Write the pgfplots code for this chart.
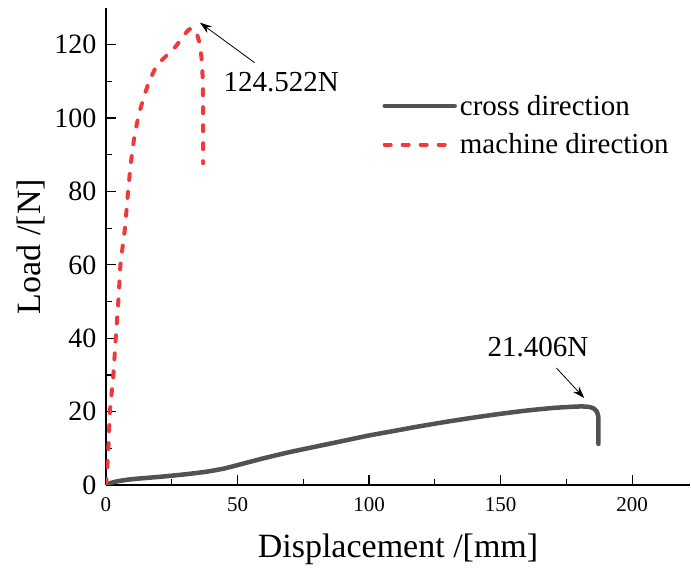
\documentclass[border=0pt]{standalone}
\usepackage{fontspec}
\setmainfont{Liberation Serif}
\usepackage{pgfplots}
\pgfplotsset{compat=1.18}
\usetikzlibrary{arrows.meta}
\definecolor{mdred}{RGB}{238,58,60}
\definecolor{cdgray}{RGB}{82,82,82}
\begin{document}
\begin{tikzpicture}
\useasboundingbox (-106pt,-85pt) rectangle (585pt,485pt);
\begin{axis}[name=ax, at={(0,0)}, anchor=south west,
  scale only axis, width=584pt, height=477pt,
  xmin=0, xmax=222, ymin=0, ymax=130,
  axis lines=left, axis line style={-, line width=1.3pt},
  xtick={0,50,...,200}, ytick={0,20,...,120},
  minor xtick={25,75,...,175}, minor ytick={10,30,...,110},
  tick align=inside, major tick length=10pt, minor tick length=6pt,
  every tick/.style={black, line width=1.2pt},
  /pgf/number format/assume math mode=true,
  x tick label style={font=\fontsize{21}{25}\selectfont, yshift=-9pt},
  y tick label style={font=\fontsize{28}{32}\selectfont, xshift=-6pt},
  xlabel={Displacement /[mm]}, ylabel={Load /[N]},
  label style={font=\fontsize{34}{40}\selectfont},
  x label style={at={(axis description cs:0.5,-0.151)}, anchor=base},
  y label style={at={(axis description cs:-0.113,0.5)}, anchor=base},
  legend cell align=left,
  legend image code/.code={\draw[#1] plot coordinates {(0pt,0pt) (35pt,0pt) (70pt,0pt)};},
  legend style={at={(0.473,0.822)}, anchor=north west, draw=none, fill=none,
    font=\fontsize{29}{34}\selectfont, row sep=13pt, inner sep=0pt,
    nodes={inner sep=2pt, inner xsep=3pt}},
]
\addplot[cdgray, line width=4.5pt, line join=round, line cap=round, smooth, tension=0.3] coordinates {
(0,0) (2,0.6) (5,1.1) (10,1.6) (20,2.2) (30,2.9) (38,3.6) (45,4.5) (52,5.8)
(60,7.3) (70,9.0) (80,10.5) (90,12.0) (100,13.5) (110,14.8) (120,16.1)
(130,17.3) (140,18.4) (150,19.4) (160,20.3) (170,21.0) (178,21.35) (181,21.406)
(183.5,21.3) (185.3,20.9) (186.5,20.1) (187.1,18.8) (187.2,16.5) (187.2,11.2)
};
\addlegendentry{cross direction}
\addplot[mdred, line width=4pt, line cap=round, dash pattern=on 6pt off 12pt, smooth, tension=0.3] coordinates {
(0,0) (0.5,5) (0.9,10) (1.5,20) (2.8,30) (3.7,40) (4.7,50) (5.5,60) (7.2,70)
(8.4,80) (9.5,88) (10.8,95) (12.5,101) (14.5,106) (16.7,110.5) (19.5,114.5)
(23,117) (26.5,119.5) (29.5,122.5) (31.5,124.1) (33,124.522) (34.5,123)
(35.5,120.5) (36.3,116.5) (36.8,110) (36.9,100) (36.9,87.7)
};
\addlegendentry{machine direction}
\node[anchor=west, font=\fontsize{29}{34}\selectfont, inner sep=0pt] at (axis cs:44.6,109.8) {124.522N};
\draw[-{Stealth[length=12pt,width=8pt]}, line width=0.8pt] (axis cs:56.5,115.1) -- (axis cs:35.7,126);
\node[anchor=west, font=\fontsize{29}{34}\selectfont, inner sep=0pt] at (axis cs:145,37.6) {21.406N};
\draw[-{Stealth[length=12pt,width=8pt]}, line width=0.8pt] (axis cs:171.2,31.9) -- (axis cs:181.8,23.7);
\end{axis}
\end{tikzpicture}
\end{document}
